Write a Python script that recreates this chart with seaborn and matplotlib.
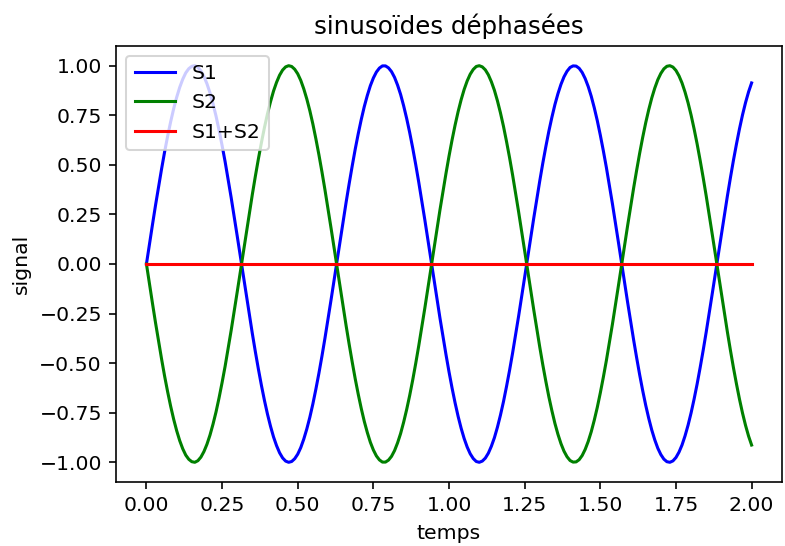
import numpy as np
import matplotlib
matplotlib.use('Agg')
import matplotlib.pyplot as plt
import seaborn as sns

# time grid, 0 to 2 s, one sample every 0.01 s
temps = np.linspace(0, 2, 201)

# S1 values (10 samples per row = 0.1 s)
s1 = np.array([
    0.000, 0.100, 0.199, 0.296, 0.389, 0.479, 0.565, 0.644, 0.717, 0.783,
    0.841, 0.891, 0.932, 0.964, 0.985, 0.997, 1.000, 0.992, 0.974, 0.946,
    0.909, 0.863, 0.808, 0.746, 0.675, 0.598, 0.516, 0.427, 0.335, 0.239,
    0.141, 0.042, -0.058, -0.158, -0.256, -0.351, -0.443, -0.530, -0.612, -0.688,
    -0.757, -0.818, -0.872, -0.916, -0.952, -0.978, -0.994, -1.000, -0.996, -0.982,
    -0.959, -0.926, -0.883, -0.832, -0.773, -0.706, -0.631, -0.551, -0.465, -0.374,
    -0.279, -0.182, -0.083, 0.017, 0.117, 0.215, 0.312, 0.405, 0.494, 0.579,
    0.657, 0.729, 0.794, 0.850, 0.899, 0.938, 0.968, 0.988, 0.999, 0.999,
    0.989, 0.970, 0.941, 0.902, 0.855, 0.798, 0.734, 0.663, 0.585, 0.501,
    0.412, 0.319, 0.223, 0.124, 0.025, -0.075, -0.175, -0.272, -0.366, -0.457,
    -0.544, -0.625, -0.700, -0.768, -0.828, -0.880, -0.923, -0.957, -0.981, -0.996,
    -1.000, -0.994, -0.979, -0.954, -0.919, -0.876, -0.823, -0.762, -0.694, -0.618,
    -0.537, -0.450, -0.358, -0.263, -0.166, -0.066, 0.034, 0.133, 0.231, 0.327,
    0.420, 0.509, 0.592, 0.670, 0.740, 0.804, 0.859, 0.906, 0.944, 0.972,
    0.991, 0.999, 0.998, 0.987, 0.966, 0.935, 0.895, 0.846, 0.788, 0.723,
    0.650, 0.571, 0.487, 0.397, 0.304, 0.207, 0.108, 0.008, -0.092, -0.191,
    -0.288, -0.382, -0.472, -0.558, -0.638, -0.712, -0.778, -0.837, -0.887, -0.929,
    -0.961, -0.984, -0.997, -1.000, -0.993, -0.976, -0.949, -0.913, -0.867, -0.813,
    -0.751, -0.681, -0.605, -0.522, -0.435, -0.343, -0.247, -0.149, -0.050, 0.050,
    0.150, 0.248, 0.343, 0.435, 0.523, 0.605, 0.682, 0.752, 0.814, 0.868,
    0.913,
])

# S2 values (opposite phase)
s2 = np.array([
    -0.000, -0.100, -0.199, -0.296, -0.389, -0.479, -0.565, -0.644, -0.717, -0.783,
    -0.841, -0.891, -0.932, -0.964, -0.985, -0.997, -1.000, -0.992, -0.974, -0.946,
    -0.909, -0.863, -0.808, -0.746, -0.675, -0.598, -0.516, -0.427, -0.335, -0.239,
    -0.141, -0.042, 0.058, 0.158, 0.256, 0.351, 0.443, 0.530, 0.612, 0.688,
    0.757, 0.818, 0.872, 0.916, 0.952, 0.978, 0.994, 1.000, 0.996, 0.982,
    0.959, 0.926, 0.883, 0.832, 0.773, 0.706, 0.631, 0.551, 0.465, 0.374,
    0.279, 0.182, 0.083, -0.017, -0.117, -0.215, -0.312, -0.405, -0.494, -0.579,
    -0.657, -0.729, -0.794, -0.850, -0.899, -0.938, -0.968, -0.988, -0.999, -0.999,
    -0.989, -0.970, -0.941, -0.902, -0.855, -0.798, -0.734, -0.663, -0.585, -0.501,
    -0.412, -0.319, -0.223, -0.124, -0.025, 0.075, 0.175, 0.272, 0.366, 0.457,
    0.544, 0.625, 0.700, 0.768, 0.828, 0.880, 0.923, 0.957, 0.981, 0.996,
    1.000, 0.994, 0.979, 0.954, 0.919, 0.876, 0.823, 0.762, 0.694, 0.618,
    0.537, 0.450, 0.358, 0.263, 0.166, 0.066, -0.034, -0.133, -0.231, -0.327,
    -0.420, -0.509, -0.592, -0.670, -0.740, -0.804, -0.859, -0.906, -0.944, -0.972,
    -0.991, -0.999, -0.998, -0.987, -0.966, -0.935, -0.895, -0.846, -0.788, -0.723,
    -0.650, -0.571, -0.487, -0.397, -0.304, -0.207, -0.108, -0.008, 0.092, 0.191,
    0.288, 0.382, 0.472, 0.558, 0.638, 0.712, 0.778, 0.837, 0.887, 0.929,
    0.961, 0.984, 0.997, 1.000, 0.993, 0.976, 0.949, 0.913, 0.867, 0.813,
    0.751, 0.681, 0.605, 0.522, 0.435, 0.343, 0.247, 0.149, 0.050, -0.050,
    -0.150, -0.248, -0.343, -0.435, -0.523, -0.605, -0.682, -0.752, -0.814, -0.868,
    -0.913,
])

somme = s1 + s2

xticks = [0, 0.25, 0.5, 0.75, 1.0, 1.25, 1.5, 1.75, 2.0]
yticks = [-1, -0.75, -0.5, -0.25, 0, 0.25, 0.5, 0.75, 1]

dpi = 147
fig = plt.figure(figsize=(785 / dpi, 546 / dpi), dpi=dpi)
ax = fig.add_axes([0.148, 0.117, 0.848, 0.799])

sns.lineplot(x=temps, y=s1, color='b', label='S1', ax=ax)
sns.lineplot(x=temps, y=s2, color='g', label='S2', ax=ax)
sns.lineplot(x=temps, y=somme, color='r', label='S1+S2', ax=ax)

ax.set_title('sinusoïdes déphasées')
ax.set_xlabel('temps')
ax.set_ylabel('signal')
ax.set_xticks(xticks)
ax.set_xticklabels(['%.2f' % v for v in xticks])
ax.set_yticks(yticks)
ax.set_yticklabels([('%.2f' % v).replace('-', '\u2212') for v in yticks])
ax.legend(loc='upper left')

fig.savefig('out.png', dpi=dpi)
